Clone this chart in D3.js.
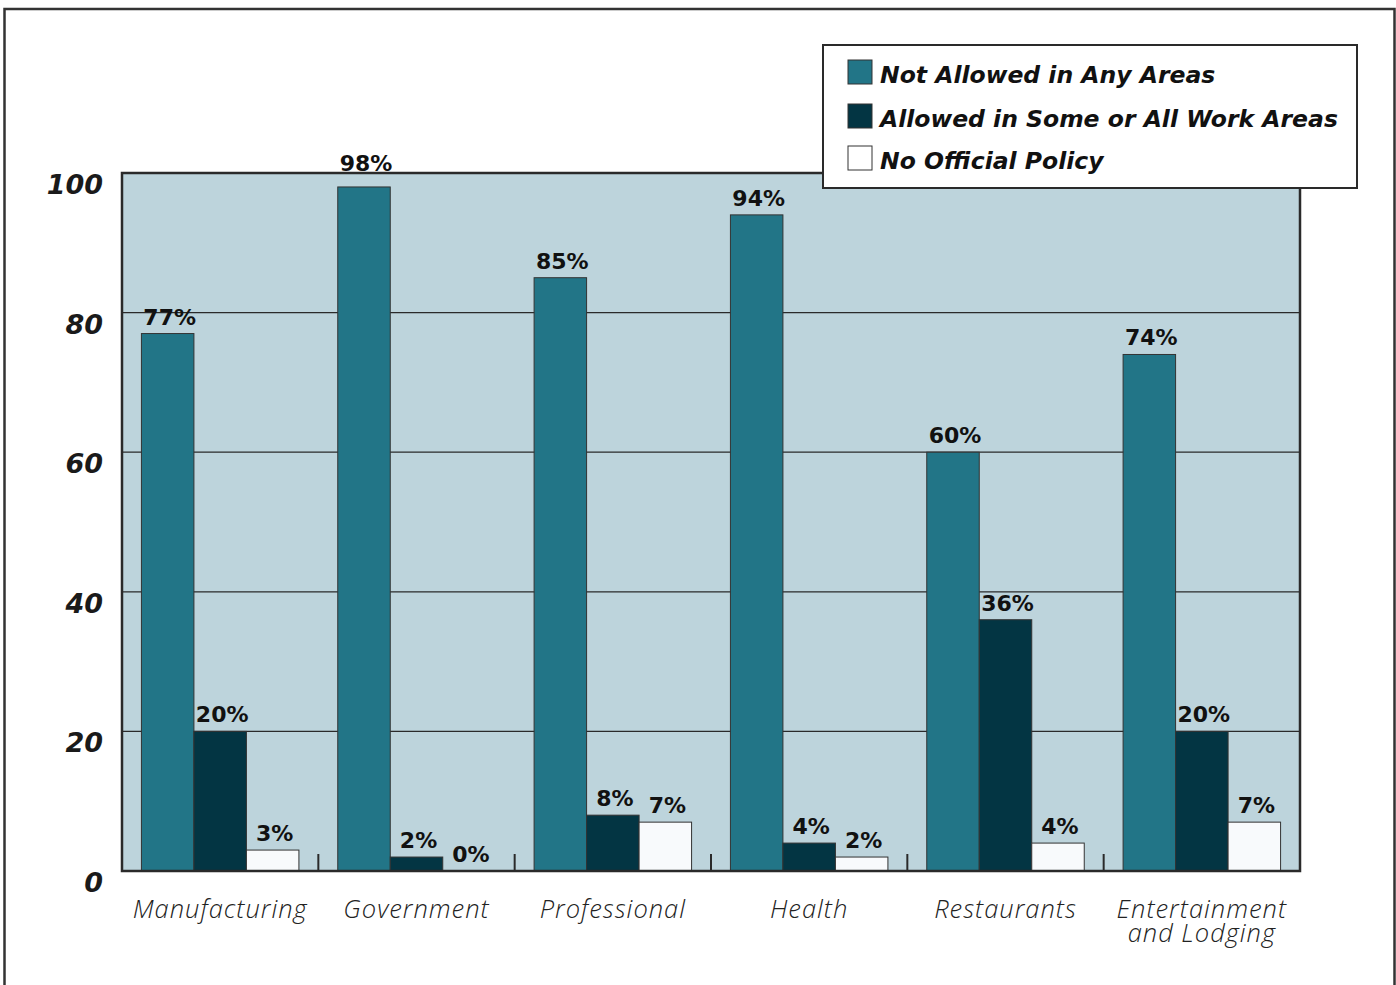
<!DOCTYPE html>
<html>
<head>
<meta charset="utf-8">
<script src="https://cdn.jsdelivr.net/npm/d3@7"></script>
<style>
  html, body { margin: 0; padding: 0; background: #fff; }
  svg { display: block; }
</style>
</head>
<body>
<svg id="chart" width="1396" height="985"></svg>
<script>
const categories = ["Manufacturing", "Government", "Professional", "Health", "Restaurants", "Entertainment\nand Lodging"];
const seriesNames = ["Not Allowed in Any Areas", "Allowed in Some or All Work Areas", "No Official Policy"];
const notAllowed = [77, 98, 85, 94, 60, 74];
const allowedSome = [20, 2, 8, 4, 36, 20];
const noPolicy = [3, 0, 7, 2, 4, 7];
const yTicks = [0, 20, 40, 60, 80, 100];

const colors = ["#227587", "#033543", "#f8fafc"];
const seriesValues = [notAllowed, allowedSome, noPolicy];

const svg = d3.select("#chart");
const plot = { left: 122, top: 173, right: 1300, bottom: 871 };

// outer frame
svg.append("rect").attr("x", 4.5).attr("y", 9).attr("width", 1390).attr("height", 1000)
  .attr("fill", "#fff").attr("stroke", "#333").attr("stroke-width", 2.5);

const x0 = d3.scaleBand().domain(d3.range(categories.length)).range([plot.left, plot.right]).paddingInner(0).paddingOuter(0);
const x1 = d3.scaleBand().domain(d3.range(seriesNames.length)).range([0, x0.bandwidth()]).paddingOuter(0.37).paddingInner(0);
const y = d3.scaleLinear().domain([0, 100]).range([plot.bottom, plot.top]);

// background
svg.append("rect").attr("x", plot.left).attr("y", plot.top)
  .attr("width", plot.right - plot.left).attr("height", plot.bottom - plot.top)
  .attr("fill", "#bdd4dc");

// gridlines
svg.append("g").selectAll("line").data(yTicks.filter(t => t > 0 && t < 100)).join("line")
  .attr("x1", plot.left).attr("x2", plot.right)
  .attr("y1", d => y(d)).attr("y2", d => y(d))
  .attr("stroke", "#2a2a2a").attr("stroke-width", 1.2);

// bars
const groups = svg.append("g").selectAll("g").data(categories).join("g")
  .attr("transform", (d, i) => `translate(${x0(i)},0)`);

groups.each(function(cat, ci) {
  const g = d3.select(this);
  seriesValues.forEach((vals, si) => {
    const v = vals[ci];
    if (v > 0) {
      g.append("rect")
        .attr("x", x1(si)).attr("y", y(v))
        .attr("width", x1.bandwidth()).attr("height", y(0) - y(v))
        .attr("fill", colors[si]).attr("stroke", "#333").attr("stroke-width", 1);
    }
    let base = y(v) - 9;
    if (base > plot.top && base - 16 < plot.top) base = plot.top - 2;
    g.append("text")
      .attr("x", x1(si) + x1.bandwidth() / 2 + 2).attr("y", base)
      .attr("text-anchor", "middle")
      .attr("font-family", "DejaVu Sans").attr("font-weight", "bold")
      .attr("font-size", 22).attr("fill", "#111")
      .text(v + "%");
  });
});

// separator ticks
svg.append("g").selectAll("line").data(d3.range(1, categories.length)).join("line")
  .attr("x1", d => x0(d)).attr("x2", d => x0(d))
  .attr("y1", plot.bottom).attr("y2", plot.bottom - 17)
  .attr("stroke", "#2a2a2a").attr("stroke-width", 2);

// plot border
svg.append("rect").attr("x", plot.left).attr("y", plot.top)
  .attr("width", plot.right - plot.left).attr("height", plot.bottom - plot.top)
  .attr("fill", "none").attr("stroke", "#2a2a2a").attr("stroke-width", 2.5);

// y axis labels
svg.append("g").selectAll("text").data(yTicks).join("text")
  .attr("x", 103).attr("y", d => y(d) + 21)
  .attr("text-anchor", "end")
  .attr("font-family", "DejaVu Sans").attr("font-weight", "bold").attr("font-style", "italic")
  .attr("font-size", 27).attr("fill", "#1a1a1a")
  .text(d => d);

// x labels
svg.append("g").selectAll("text").data(categories).join("text")
  .attr("x", (d, i) => x0(i) + x0.bandwidth() / 2).attr("y", 918)
  .attr("text-anchor", "middle")
  .attr("font-family", "'Open Sans', sans-serif").attr("font-weight", 300).attr("font-style", "italic")
  .attr("font-size", 25.5).attr("letter-spacing", 1).attr("fill", "#222")
  .each(function(d) {
    const t = d3.select(this);
    d.split("\n").forEach((line, li) => {
      t.append("tspan").attr("x", t.attr("x")).attr("dy", li === 0 ? 0 : 23.5).text(line);
    });
  });

// legend
const legend = svg.append("g");
legend.append("rect").attr("x", 823).attr("y", 45).attr("width", 534).attr("height", 143)
  .attr("fill", "#fff").attr("stroke", "#2a2a2a").attr("stroke-width", 2);
const legendY = [60, 104, 146];
seriesNames.forEach((name, i) => {
  legend.append("rect").attr("x", 848).attr("y", legendY[i]).attr("width", 24).attr("height", 24)
    .attr("fill", colors[i] === "#f8fafc" ? "#fff" : colors[i]).attr("stroke", "#333").attr("stroke-width", 1);
  legend.append("text").attr("x", 880).attr("y", legendY[i] + 23)
    .attr("font-family", "DejaVu Sans").attr("font-weight", "bold").attr("font-style", "italic")
    .attr("font-size", 23.5).attr("fill", "#111")
    .text(name);
});
</script>
</body>
</html>
